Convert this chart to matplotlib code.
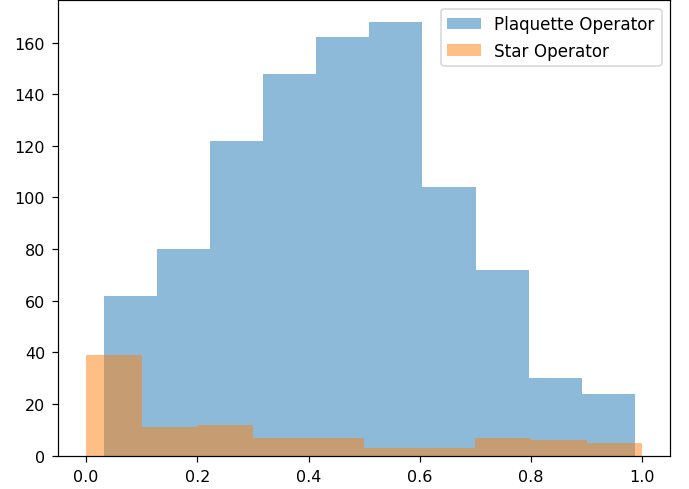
import numpy as np
import matplotlib
matplotlib.use("Agg")
import matplotlib.pyplot as plt

# bin counts (10 bins each)
plaquette_counts = [62, 80, 122, 148, 162, 168, 104, 72, 30, 24]
star_counts = [39, 11, 12, 7, 7, 3, 3, 7, 6, 5]

# data range of each series (hist uses min..max of the data)
plaquette_range = (0.0315, 0.987)
star_range = (0.0, 1.0)

plaq_edges = np.linspace(plaquette_range[0], plaquette_range[1], len(plaquette_counts) + 1)
star_edges = np.linspace(star_range[0], star_range[1], len(star_counts) + 1)

fig = plt.figure(figsize=(689 / 110, 490 / 110), dpi=110)
ax = fig.add_axes([0.0846, 0.068, 0.8878, 0.9296])

ax.hist(plaq_edges[:-1], bins=plaq_edges, weights=plaquette_counts, alpha=0.5, label='Plaquette Operator')
ax.hist(star_edges[:-1], bins=star_edges, weights=star_counts, alpha=0.5, label='Star Operator')

ax.tick_params(labelsize=10.5, length=4.2, pad=4.4)
ax.legend(loc='upper right', fontsize=11)

fig.savefig('out.png', dpi=110)
